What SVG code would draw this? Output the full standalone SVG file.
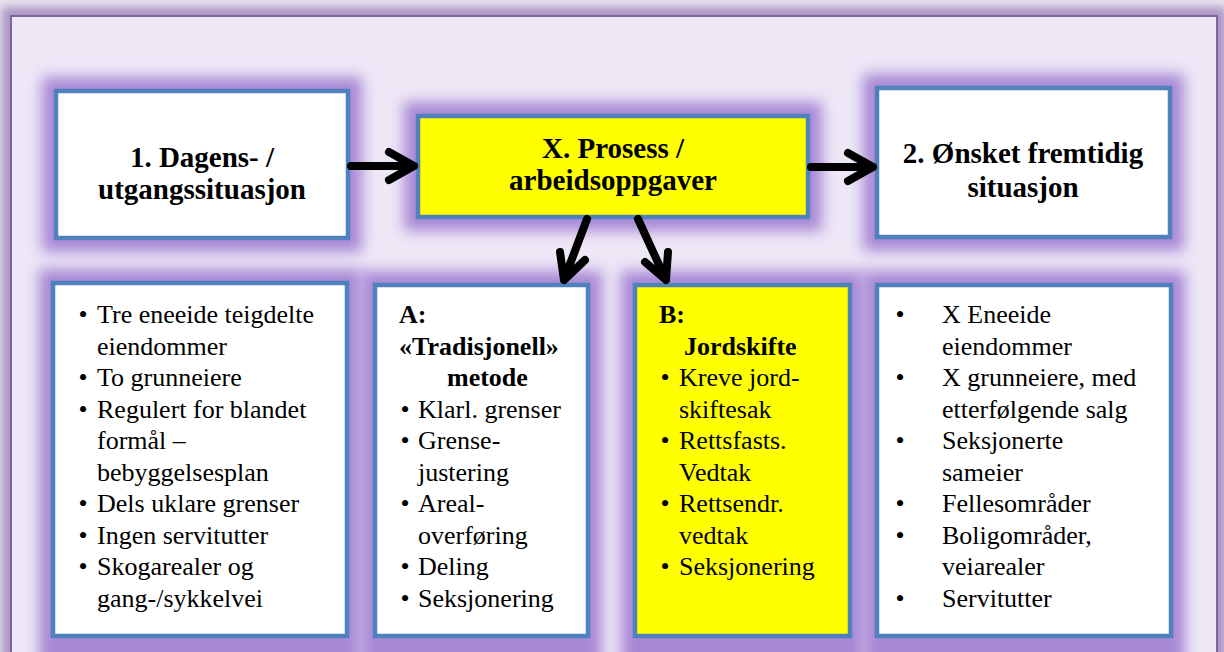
<svg xmlns="http://www.w3.org/2000/svg" width="1224" height="652" viewBox="0 0 1224 652">
<defs>
<style>
.box{stroke:#4f81bd;stroke-width:4.5;}
.w{fill:#ffffff;}
.y{fill:#ffff00;}
.halo{fill:#a888d5;filter:url(#blur);}
.h{font-family:"Liberation Serif","Times New Roman",serif;font-weight:bold;font-size:29px;fill:#000;text-anchor:middle;}
.t{font-family:"Liberation Serif","Times New Roman",serif;font-size:26px;fill:#000;}
.b{font-weight:bold;}
.arr{fill:none;stroke:#000;stroke-width:8;stroke-linecap:round;stroke-linejoin:round;}
</style>
<filter id="blur" x="-30%" y="-30%" width="160%" height="160%">
<feGaussianBlur stdDeviation="7"/>
</filter>
<filter id="oblur" x="-5%" y="-10%" width="110%" height="120%">
<feGaussianBlur stdDeviation="4"/>
</filter>
</defs>
<rect x="0" y="0" width="1224" height="652" fill="#e9e4ee"/>
<g id="frame">
<rect x="2" y="7" width="1224" height="700" fill="#ab95c6" filter="url(#oblur)"/>
<rect x="11" y="16" width="1206" height="680" fill="#ede7f6" stroke="#8064a2" stroke-width="2"/>
</g>
<g id="n1">
<rect class="halo" x="42" y="77" width="320" height="175"/>
<rect class="box w" x="56" y="91" width="292" height="147"/>
<text class="h" x="202" y="167">1. Dagens- /</text>
<text class="h" x="202" y="199">utgangssituasjon</text>
</g>
<g id="nX">
<rect class="halo" x="404" y="102" width="418" height="129"/>
<rect class="box y" x="418" y="116" width="390" height="101"/>
<text class="h" x="613" y="158">X. Prosess /</text>
<text class="h" x="613" y="190">arbeidsoppgaver</text>
</g>
<g id="n2">
<rect class="halo" x="863" y="74" width="321" height="177"/>
<rect class="box w" x="877" y="88" width="293" height="149"/>
<text class="h" x="1023" y="163">2. Ønsket fremtidig</text>
<text class="h" x="1023" y="197">situasjon</text>
</g>
<g id="n1list">
<rect class="halo" x="39" y="269" width="322" height="400"/>
<rect class="box w" x="53" y="283" width="294" height="353"/>
<g class="t">
<text x="78.5" y="323">•</text><text x="97" y="323">Tre eneeide teigdelte</text>
<text x="97" y="354.5">eiendommer</text>
<text x="78.5" y="386">•</text><text x="97" y="386">To grunneiere</text>
<text x="78.5" y="417.5">•</text><text x="97" y="417.5">Regulert for blandet</text>
<text x="97" y="449">formål –</text>
<text x="97" y="480.5">bebyggelsesplan</text>
<text x="78.5" y="512">•</text><text x="97" y="512">Dels uklare grenser</text>
<text x="78.5" y="543.5">•</text><text x="97" y="543.5">Ingen servitutter</text>
<text x="78.5" y="575">•</text><text x="97" y="575">Skogarealer og</text>
<text x="97" y="606.5">gang-/sykkelvei</text>
</g>
</g>
<g id="nA">
<rect class="halo" x="361" y="271" width="241" height="398"/>
<rect class="box w" x="375" y="285" width="213" height="351"/>
<g class="t">
<text class="b" x="399" y="323">A:</text>
<text class="b" x="399" y="354.5">«Tradisjonell»</text>
<text class="b" x="447" y="386">metode</text>
<text x="400.5" y="417.5">•</text><text x="418" y="417.5">Klarl. grenser</text>
<text x="400.5" y="449">•</text><text x="418" y="449">Grense-</text>
<text x="418" y="480.5">justering</text>
<text x="400.5" y="512">•</text><text x="418" y="512">Areal-</text>
<text x="418" y="543.5">overføring</text>
<text x="400.5" y="575">•</text><text x="418" y="575">Deling</text>
<text x="400.5" y="606.5">•</text><text x="418" y="606.5">Seksjonering</text>
</g>
</g>
<g id="nB">
<rect class="halo" x="621" y="271" width="243" height="398"/>
<rect class="box y" x="635" y="285" width="215" height="351"/>
<g class="t">
<text class="b" x="659" y="323">B:</text>
<text class="b" x="684" y="354.5">Jordskifte</text>
<text x="660.5" y="386">•</text><text x="679" y="386">Kreve jord-</text>
<text x="679" y="417.5">skiftesak</text>
<text x="660.5" y="449">•</text><text x="679" y="449">Rettsfasts.</text>
<text x="679" y="480.5">Vedtak</text>
<text x="660.5" y="512">•</text><text x="679" y="512">Rettsendr.</text>
<text x="679" y="543.5">vedtak</text>
<text x="660.5" y="575">•</text><text x="679" y="575">Seksjonering</text>
</g>
</g>
<g id="n2list">
<rect class="halo" x="863" y="271" width="322" height="398"/>
<rect class="box w" x="877" y="285" width="294" height="351"/>
<g class="t">
<text x="895.5" y="323">•</text><text x="942" y="323">X Eneeide</text>
<text x="942" y="354.5">eiendommer</text>
<text x="895.5" y="386">•</text><text x="942" y="386">X grunneiere, med</text>
<text x="942" y="417.5">etterfølgende salg</text>
<text x="895.5" y="449">•</text><text x="942" y="449">Seksjonerte</text>
<text x="942" y="480.5">sameier</text>
<text x="895.5" y="512">•</text><text x="942" y="512">Fellesområder</text>
<text x="895.5" y="543.5">•</text><text x="942" y="543.5">Boligområder,</text>
<text x="942" y="575">veiarealer</text>
<text x="895.5" y="606.5">•</text><text x="942" y="606.5">Servitutter</text>
</g>
</g>
<g id="connectors">
<path class="arr" d="M351 166 H414 M389 152 L414 166 L389 180"/>
<path class="arr" d="M811 167 H873 M848 153 L873 167 L848 181"/>
<path class="arr" d="M587 219 L564 280 M560 252 L564 280 L585 260"/>
<path class="arr" d="M638 219 L666 280 M645 262 L666 280 L668 252"/>
</g>
</svg>
